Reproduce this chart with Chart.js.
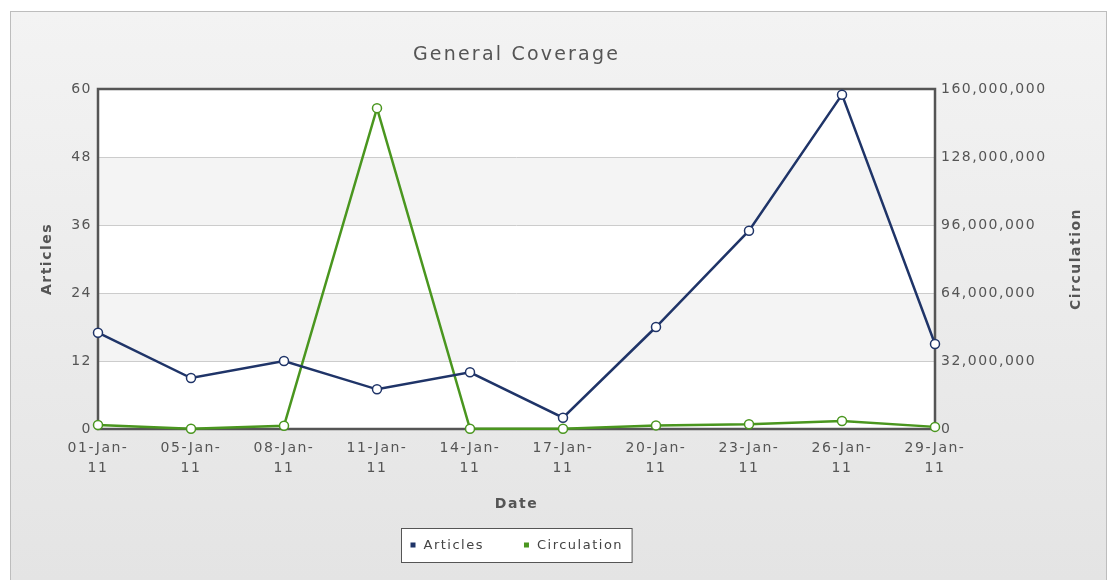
<!DOCTYPE html>
<html>
<head>
<meta charset="utf-8">
<script src="https://cdn.jsdelivr.net/npm/chart.js@4.4.0/dist/chart.umd.min.js"></script>
<style>
  html, body { margin: 0; padding: 0; background: #fff; }
  canvas { display: block; }
</style>
</head>
<body>
<canvas id="chart" width="1115" height="580"></canvas>
<script>
'use strict';

// data
const dates = ['01-Jan-11', '05-Jan-11', '08-Jan-11', '11-Jan-11', '14-Jan-11',
  '17-Jan-11', '20-Jan-11', '23-Jan-11', '26-Jan-11', '29-Jan-11'];
const articles = [17, 9, 12, 7, 10, 2, 18, 35, 59, 15];
const circulation = [1900000, 150000, 1500000, 151000000, 100000, 100000,
  1700000, 2200000, 3800000, 1000000];
const articleTicks = [0, 12, 24, 36, 48, 60];
const circulationTicks = [0, 32000000, 64000000, 96000000, 128000000, 160000000];

const navy = '#1f3468';
const green = '#4a961f';
const spacing = '1.5px';

Chart.defaults.font.family = 'DejaVu Sans';
Chart.defaults.font.size = 14;
Chart.defaults.color = '#555';

// x labels on two lines: "01-Jan-" / "11"
const xLabels = dates.map(d => {
  const i = d.lastIndexOf('-');
  return [d.slice(0, i + 1), d.slice(i + 1)];
});

const panelPlugin = {
  id: 'panel',
  beforeUpdate(chart) {
    chart.ctx.letterSpacing = spacing;
  },
  beforeDraw(chart) {
    const ctx = chart.ctx;
    ctx.letterSpacing = spacing;
    ctx.save();
    ctx.fillStyle = '#fff';
    ctx.fillRect(0, 0, chart.width, chart.height);
    const g = ctx.createLinearGradient(0, 12, 0, 580);
    g.addColorStop(0, '#f3f3f3');
    g.addColorStop(1, '#e4e4e4');
    ctx.fillStyle = g;
    ctx.fillRect(10.5, 11.5, 1096, 600);
    ctx.strokeStyle = '#bdbdbd';
    ctx.lineWidth = 1;
    ctx.strokeRect(10.5, 11.5, 1096, 600);

    // alternating bands in the plot area
    const a = chart.chartArea;
    const y = chart.scales.y;
    for (let i = 0; i < articleTicks.length - 1; i++) {
      const top = y.getPixelForValue(articleTicks[i + 1]);
      const bot = y.getPixelForValue(articleTicks[i]);
      ctx.fillStyle = i % 2 === 0 ? '#ffffff' : '#f4f4f4';
      ctx.fillRect(a.left, top, a.right - a.left, bot - top);
    }
    ctx.restore();
  },
  beforeDatasetsDraw(chart) {
    const ctx = chart.ctx;
    const a = chart.chartArea;
    ctx.save();
    ctx.strokeStyle = '#555';
    ctx.lineWidth = 2.5;
    ctx.strokeRect(a.left, a.top, a.right - a.left, a.bottom - a.top);
    ctx.restore();
  },
  afterDraw(chart) {
    const ctx = chart.ctx;
    const a = chart.chartArea;
    const cx = (a.left + a.right) / 2;
    ctx.save();
    ctx.letterSpacing = '2.2px';
    ctx.fillStyle = '#555';
    ctx.font = '19px "DejaVu Sans"';
    ctx.textAlign = 'center';
    ctx.textBaseline = 'middle';
    ctx.fillText('General Coverage', cx, 55);

    // right axis title, reading upwards
    ctx.letterSpacing = spacing;
    ctx.font = 'bold 14px "DejaVu Sans"';
    ctx.translate(1076, (a.top + a.bottom) / 2);
    ctx.rotate(-Math.PI / 2);
    ctx.fillText('Circulation', 0, 0);
    ctx.restore();

    // legend box
    ctx.save();
    ctx.letterSpacing = spacing;
    ctx.font = '13px "DejaVu Sans"';
    const items = [
      { label: 'Articles', color: navy },
      { label: 'Circulation', color: green }
    ];
    const widths = items.map(it => ctx.measureText(it.label).width);
    const total = 9 + 5 + 8 + widths[0] + 40 + 5 + 8 + widths[1] + 9;
    const left = Math.round(cx - total / 2) + 0.5;
    const top = 528.5, h = 34;
    ctx.fillStyle = '#fff';
    ctx.fillRect(left, top, total, h);
    ctx.strokeStyle = '#555';
    ctx.lineWidth = 1;
    ctx.strokeRect(left, top, total, h);
    let x = left + 9;
    const my = top + h / 2;
    ctx.textBaseline = 'middle';
    ctx.textAlign = 'left';
    items.forEach((it, i) => {
      ctx.fillStyle = it.color;
      ctx.fillRect(x, my - 3, 5, 5);
      x += 13;
      ctx.fillStyle = '#444';
      ctx.fillText(it.label, x, my);
      x += widths[i] + 40;
    });
    ctx.restore();
  }
};

const ctx = document.getElementById('chart').getContext('2d');
const chart = new Chart(ctx, {
  type: 'line',
  data: {
    labels: xLabels,
    datasets: [
      {
        label: 'Articles',
        data: articles,
        yAxisID: 'y',
        borderColor: navy,
        backgroundColor: '#fff',
        borderWidth: 2.5,
        pointRadius: 4.5,
        pointBorderWidth: 1.5,
        pointBackgroundColor: '#fff',
        pointBorderColor: navy,
        tension: 0,
        clip: false
      },
      {
        label: 'Circulation',
        data: circulation,
        yAxisID: 'y1',
        borderColor: green,
        backgroundColor: '#fff',
        borderWidth: 2.5,
        pointRadius: 4.5,
        pointBorderWidth: 1.5,
        pointBackgroundColor: '#fff',
        pointBorderColor: green,
        tension: 0,
        clip: false
      }
    ]
  },
  options: {
    responsive: false,
    animation: false,
    layout: { padding: { left: 35, right: 30, top: 89, bottom: 63 } },
    plugins: {
      legend: { display: false },
      title: { display: false },
      tooltip: { enabled: false }
    },
    scales: {
      x: {
        offset: false,
        grid: { display: false, drawTicks: false },
        border: { display: false },
        ticks: { padding: 9, maxRotation: 0, autoSkip: false, color: '#555',
          font: { size: 14, lineHeight: 1.43 } },
        title: { display: true, text: 'Date', color: '#555',
          font: { size: 14, weight: 'bold' }, padding: { top: 4, bottom: 4 } },
        afterFit(scale) { scale.height = 88; }
      },
      y: {
        position: 'left',
        min: 0,
        max: 60,
        afterBuildTicks(scale) { scale.ticks = articleTicks.map(v => ({ value: v })); },
        grid: { color: '#cccccc', lineWidth: 1, drawTicks: false },
        border: { display: false },
        ticks: { padding: 6, color: '#555' },
        title: { display: true, text: 'Articles', color: '#555',
          font: { size: 14, weight: 'bold' }, padding: { top: 4, bottom: 4 } },
        afterFit(scale) { scale.width = 63; }
      },
      y1: {
        position: 'right',
        min: 0,
        max: 160000000,
        afterBuildTicks(scale) { scale.ticks = circulationTicks.map(v => ({ value: v })); },
        grid: { display: false, drawTicks: false },
        border: { display: false },
        ticks: { padding: 6, color: '#555',
          callback: v => Number(v).toLocaleString('en-US') },
        afterFit(scale) { scale.width = 150; }
      }
    }
  },
  plugins: [panelPlugin]
});
</script>
</body>
</html>
